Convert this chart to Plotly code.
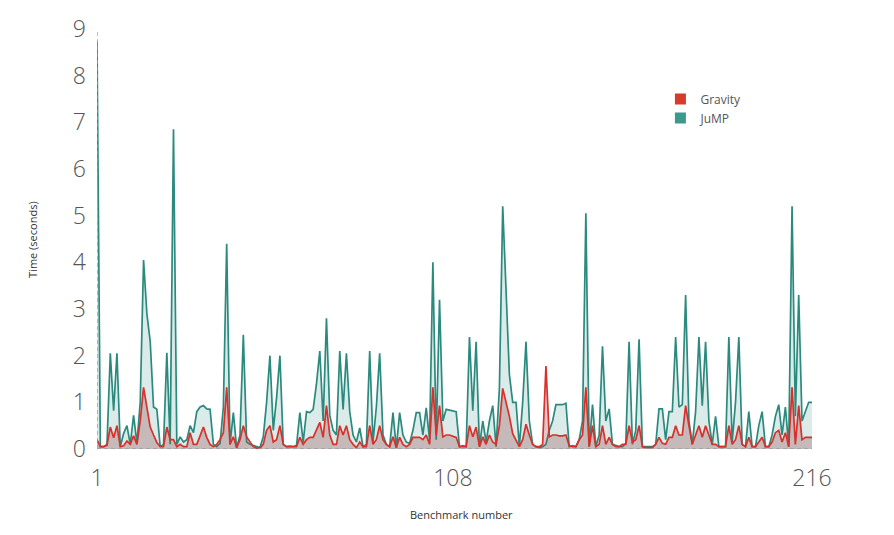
import plotly.graph_objects as go

benchmark = list(range(1, 217))

jump_times = [
    8.75, 0.05, 0.05, 0.1, 2.05, 0.82, 2.05, 0.05, 0.33, 0.5,
    0.1, 0.72, 0.12, 1.0, 4.05, 2.9, 2.3, 0.9, 0.85, 0.05,
    0.1, 2.06, 0.1, 6.85, 0.1, 0.26, 0.15, 0.2, 0.5, 0.35,
    0.8, 0.9, 0.93, 0.86, 0.85, 0.1, 0.05, 0.12, 0.9, 4.4,
    0.1, 0.78, 0.02, 0.3, 2.45, 0.15, 0.1, 0.07, 0.05, 0.03,
    0.26, 1.0, 2.0, 0.4, 1.1, 2.0, 0.1, 0.05, 0.06, 0.05,
    0.08, 0.78, 0.15, 0.8, 0.78, 0.85, 1.4, 2.1, 0.6, 2.8,
    0.72, 0.4, 0.3, 2.1, 0.85, 2.05, 0.8, 0.3, 0.15, 0.45,
    0.05, 0.1, 2.1, 0.15, 0.9, 2.05, 0.3, 0.1, 0.05, 0.78,
    0.02, 0.78, 0.3, 0.15, 0.12, 0.4, 0.78, 0.78, 0.3, 0.88,
    0.2, 4.0, 0.2, 3.2, 0.6, 0.85, 0.83, 0.82, 0.8, 0.05,
    0.07, 0.05, 2.4, 0.82, 2.3, 0.05, 0.6, 0.15, 0.6, 0.93,
    0.05, 1.3, 5.2, 3.4, 1.6, 1.0, 1.0, 0.05, 1.0, 2.3,
    0.6, 0.1, 0.05, 0.03, 0.05, 0.1, 0.4, 0.6, 0.95, 0.95,
    0.95, 0.98, 0.05, 0.07, 0.05, 0.2, 0.6, 5.05, 0.05, 0.95,
    0.05, 0.3, 2.2, 0.6, 0.86, 0.1, 0.07, 0.05, 0.05, 0.12,
    2.3, 0.1, 0.4, 2.35, 0.05, 0.05, 0.05, 0.05, 0.1, 0.86,
    0.86, 0.2, 0.8, 0.8, 2.4, 0.9, 0.95, 3.3, 0.6, 0.1,
    0.8, 2.4, 0.93, 2.3, 0.6, 0.1, 0.7, 0.05, 0.05, 0.05,
    2.4, 0.15, 1.0, 2.4, 0.1, 0.05, 0.8, 0.05, 0.05, 0.5,
    0.8, 0.05, 0.05, 0.3, 0.7, 0.95, 0.3, 0.9, 0.05, 5.2,
    0.7, 3.3, 0.6, 0.8, 1.0, 1.0,
]

gravity_times = [
    0.2, 0.05, 0.05, 0.08, 0.47, 0.24, 0.5, 0.05, 0.07, 0.17,
    0.1, 0.28, 0.1, 0.6, 1.32, 0.9, 0.47, 0.3, 0.14, 0.05,
    0.05, 0.47, 0.2, 0.2, 0.05, 0.1, 0.05, 0.05, 0.35, 0.1,
    0.1, 0.28, 0.47, 0.25, 0.1, 0.05, 0.1, 0.2, 0.35, 1.32,
    0.1, 0.26, 0.03, 0.2, 0.5, 0.26, 0.15, 0.05, 0.02, 0.02,
    0.1, 0.4, 0.5, 0.15, 0.2, 0.5, 0.1, 0.05, 0.05, 0.05,
    0.05, 0.25, 0.1, 0.2, 0.25, 0.25, 0.4, 0.57, 0.25, 0.93,
    0.3, 0.1, 0.1, 0.5, 0.3, 0.5, 0.2, 0.1, 0.03, 0.15,
    0.05, 0.05, 0.5, 0.1, 0.2, 0.5, 0.2, 0.1, 0.05, 0.26,
    0.03, 0.25, 0.1, 0.05, 0.1, 0.25, 0.25, 0.25, 0.2, 0.3,
    0.1, 1.32, 0.3, 0.93, 0.26, 0.3, 0.3, 0.28, 0.25, 0.05,
    0.05, 0.05, 0.5, 0.26, 0.47, 0.05, 0.26, 0.1, 0.3, 0.15,
    0.1, 0.5, 1.3, 1.0, 0.7, 0.33, 0.2, 0.05, 0.2, 0.53,
    0.3, 0.1, 0.05, 0.05, 0.1, 1.78, 0.26, 0.3, 0.3, 0.28,
    0.28, 0.3, 0.07, 0.05, 0.05, 0.2, 0.3, 1.32, 0.05, 0.5,
    0.05, 0.1, 0.5, 0.1, 0.25, 0.1, 0.05, 0.05, 0.1, 0.1,
    0.5, 0.15, 0.2, 0.5, 0.05, 0.03, 0.03, 0.03, 0.1, 0.25,
    0.12, 0.1, 0.25, 0.25, 0.5, 0.3, 0.3, 0.93, 0.5, 0.1,
    0.3, 0.5, 0.25, 0.5, 0.3, 0.1, 0.1, 0.05, 0.05, 0.05,
    0.5, 0.1, 0.2, 0.5, 0.1, 0.05, 0.25, 0.05, 0.05, 0.15,
    0.25, 0.05, 0.05, 0.15, 0.35, 0.4, 0.15, 0.35, 0.05, 1.32,
    0.1, 0.93, 0.2, 0.25, 0.25, 0.25,
]

assert len(jump_times) == 216 and len(gravity_times) == 216

x_tickvals = [1, 108, 216]
x_ticktext = ["1", "108", "216"]
y_tickvals = list(range(0, 10))

TEAL = "#2b8a7e"
RED = "#d8302a"
FONT = "Open Sans, Segoe UI, sans-serif"

fig = go.Figure()

fig.add_trace(go.Scatter(
    x=benchmark, y=jump_times, mode="lines", name="JuMP",
    line=dict(color=TEAL, width=1.7), fill="tozeroy",
    fillcolor="rgba(43,138,126,0.17)", showlegend=False, hoverinfo="skip",
))
fig.add_trace(go.Scatter(
    x=benchmark, y=gravity_times, mode="lines", name="Gravity",
    line=dict(color=RED, width=1.7), fill="tozeroy",
    fillcolor="rgba(150,70,80,0.30)", showlegend=False, hoverinfo="skip",
))

# legend entries (square swatches)
fig.add_trace(go.Scatter(
    x=[None], y=[None], mode="markers", name="Gravity",
    marker=dict(symbol="square", size=11, color="#d63b2b"),
))
fig.add_trace(go.Scatter(
    x=[None], y=[None], mode="markers", name="JuMP",
    marker=dict(symbol="square", size=11, color="#3b998d"),
))

fig.update_layout(
    width=894, height=535,
    margin=dict(l=97, r=82, t=24, b=86),
    paper_bgcolor="white", plot_bgcolor="white",
    font=dict(family=FONT, color="#555555"),
    showlegend=True,
    legend=dict(
        x=0.788, y=0.868, xanchor="left", yanchor="top",
        font=dict(size=12, color="#555555", family=FONT),
        bgcolor="rgba(0,0,0,0)", tracegroupgap=0,
    ),
    xaxis=dict(
        range=[1, 216], tickvals=x_tickvals, ticktext=x_ticktext,
        showgrid=False, zeroline=False, showline=False, ticks="",
        tickfont=dict(size=23, color="#555555", family=FONT, weight=300),
        ticklabelstandoff=13,
    ),
    yaxis=dict(
        range=[0, 9], tickvals=y_tickvals,
        showgrid=False, zeroline=False, showline=False, ticks="",
        tickfont=dict(size=23, color="#555555", family=FONT, weight=300),
        ticklabelstandoff=10,
    ),
    shapes=[
        dict(type="line", xref="x", yref="y", x0=1, x1=1, y0=0, y1=9,
             line=dict(color="#9a9a9a", width=1.3, dash="4px,3px"), layer="above"),
        dict(type="line", xref="x", yref="y", x0=1, x1=216, y0=0, y1=0,
             line=dict(color="#9a9a9a", width=1.3, dash="4px,3px"), layer="above"),
    ],
    annotations=[
        dict(text="Time (seconds)", xref="paper", yref="paper",
             x=-0.091, y=0.5, xanchor="center", yanchor="middle",
             textangle=-90, showarrow=False,
             font=dict(size=11, color="#333333", family=FONT)),
        dict(text="Benchmark number", xref="paper", yref="paper",
             x=0.51, y=-0.155, xanchor="center", yanchor="middle",
             showarrow=False,
             font=dict(size=11, color="#333333", family=FONT)),
    ],
)

fig.write_html("out.html")
